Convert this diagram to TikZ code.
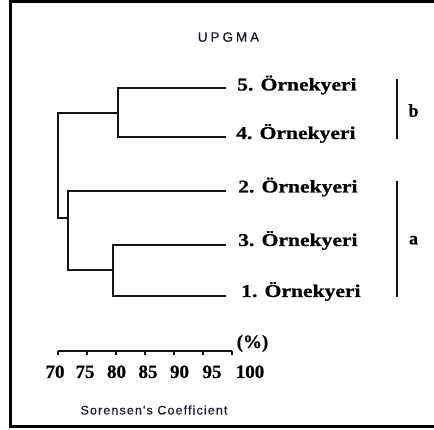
\documentclass[tikz,border=0pt]{standalone}
\usepackage{fontspec}
\setmainfont{Liberation Serif}[FakeBold=0.6]
\newfontfamily\labfont[FakeStretch=1.2,FakeBold=0.8]{Liberation Serif}
\newfontfamily\titlefont[LetterSpace=22,FakeBold=0.4]{Liberation Sans}
\newfontfamily\capfont[LetterSpace=9,FakeBold=0.4]{Liberation Sans}
\definecolor{inkline}{RGB}{20,20,20}
\definecolor{inktext}{RGB}{25,25,45}
\begin{document}
\begin{tikzpicture}[x=1pt,y=-1pt,
  tree/.style={line width=2pt, draw=inkline},
  leaf/.style={anchor=base west, inner sep=0pt, font=\labfont\bfseries\fontsize{18}{20}\selectfont},
  grp/.style={anchor=base, inner sep=0pt, font=\bfseries\fontsize{18}{20}\selectfont},
  num/.style={anchor=base, inner sep=0pt, font=\bfseries\fontsize{19}{21}\selectfont},
  small/.style={anchor=base, inner sep=0pt, text=inktext}]
\useasboundingbox (0,0) rectangle (434,430);
\clip (0,0) rectangle (434,430);
\draw[line width=3pt] (445,2) -- (10,2) -- (10,426) -- (445,426);

\node[small, font=\titlefont\fontsize{13.5}{15}\selectfont] (title) at (228.5,41.7) {UPGMA};

% leaves
\node[leaf] (l5) at (237,90.5) {5. Örnekyeri};
\node[leaf] (l4) at (236,139) {4. Örnekyeri};
\node[leaf] (l2) at (238,192.5) {2. Örnekyeri};
\node[leaf] (l3) at (238,246) {3. Örnekyeri};
\node[leaf] (l1) at (241,297) {1. Örnekyeri};

\coordinate (e5) at (226,88.5);
\coordinate (e4) at (226,137.5);
\coordinate (e2) at (226,191.5);
\coordinate (e3) at (226,245);
\coordinate (e1) at (226,296);
\coordinate (j54) at (118,113);
\coordinate (j31) at (113,270.5);
\coordinate (j231) at (68,218);
\coordinate (root) at (58,165);

\draw[tree] (e5) -| (j54) |- (e4);
\draw[tree] (e3) -| (j31) |- (e1);
\draw[tree] (e2) -| (j231) |- (j31);
\draw[tree] (j54) -| (root) |- (j231);

% groups
\coordinate (bt) at (397,79);
\coordinate (bb) at (397,139);
\coordinate (at) at (397,181);
\coordinate (ab) at (397,297);
\draw[tree] (bt) -- (bb);
\draw[tree] (at) -- (ab);
\node[grp] (gb) at (413.5,116.7) {b};
\node[grp] (ga) at (413.5,244.3) {a};

% scale
\foreach \i in {0,...,6} {
  \coordinate (t\i) at (58+29*\i,351);
  \coordinate (u\i) at (58+29*\i,355.5);
}
\draw[tree] (t0) -- (t6);
\foreach \i in {0,...,6} \draw[tree] (t\i) -- (u\i);
\node[num] (n70) at (55,378) {70};
\node[num] (n75) at (85,378) {75};
\node[num] (n80) at (116.5,378) {80};
\node[num] (n85) at (148,378) {85};
\node[num] (n90) at (179.5,378) {90};
\node[num] (n95) at (212,378) {95};
\node[num] (n100) at (250,378) {100};
\node[num] (pct) at (252.5,348) {(\%)};

\node[small, font=\capfont\fontsize{12.5}{14}\selectfont] (coef) at (154,414.5) {Sorensen's Coefficient};
\end{tikzpicture}
\end{document}
